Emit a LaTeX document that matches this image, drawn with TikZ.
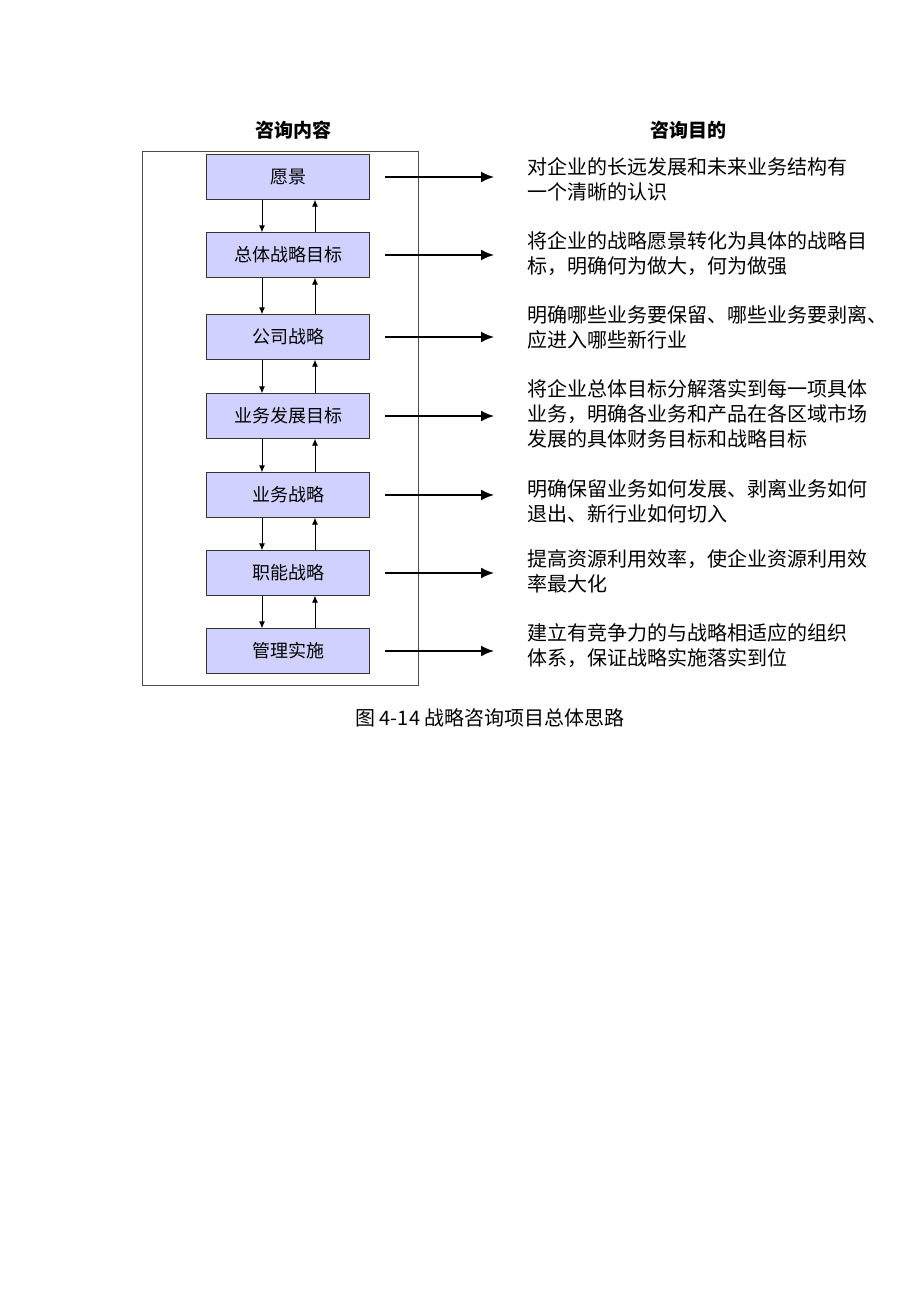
\documentclass[tikz,border=0pt]{standalone}
\usepackage{fontspec}
\usetikzlibrary{arrows.meta}
\setmainfont{Noto Sans CJK SC}
\begin{document}
\begin{tikzpicture}[x=1pt,y=-1pt,
 box/.style={draw=black!80,fill=blue!18!white,minimum width=163pt,minimum height=45pt,inner sep=0pt,font=\fontsize{18}{20}\selectfont},
 desc/.style={anchor=north west,align=left,inner sep=0pt,font=\fontsize{20}{25}\selectfont},
 arr/.style={-{Latex[length=7pt,width=6pt]},line width=0.9pt},
 big/.style={-{Latex[length=13pt,width=11pt]},line width=1.8pt}]
\useasboundingbox (0,0) rectangle (920,1302);
\node[font=\bfseries\fontsize{19}{20}\selectfont] (h1) at (293,130) {咨询内容};
\node[font=\bfseries\fontsize{19}{20}\selectfont] (h2) at (688,130) {咨询目的};
\draw[line width=0.8pt,black!70] (142,151) rectangle (418,685);
\foreach \n/\y/\t in {1/177/愿景,2/255/总体战略目标,3/337/公司战略,4/416/业务发展目标,5/495/业务战略,6/573/职能战略,7/651/管理实施}{
  \node[box] (b\n) at (288,\y) {\t};
  \coordinate (s\n) at (385,\y);
  \coordinate (e\n) at (494,\y);
  \draw[big] (s\n) -- (e\n);
}
\foreach \a/\b in {1/2,2/3,3/4,4/5,5/6,6/7}{
  \draw[arr] (b\a.south -| 262,0) -- (b\b.north -| 262,0);
  \draw[arr] (b\b.north -| 315,0) -- (b\a.south -| 315,0);
}
\node[desc] (d1) at (527,157) {对企业的长远发展和未来业务结构有\\一个清晰的认识};
\node[desc] (d2) at (527,231) {将企业的战略愿景转化为具体的战略目\\标，明确何为做大，何为做强};
\node[desc] (d3) at (527,305) {明确哪些业务要保留、哪些业务要剥离、\\应进入哪些新行业};
\node[desc] (d4) at (527,379) {将企业总体目标分解落实到每一项具体\\业务，明确各业务和产品在各区域市场\\发展的具体财务目标和战略目标};
\node[desc] (d5) at (527,479) {明确保留业务如何发展、剥离业务如何\\退出、新行业如何切入};
\node[desc] (d6) at (527,549) {提高资源利用效率，使企业资源利用效\\率最大化};
\node[desc] (d7) at (527,623) {建立有竞争力的与战略相适应的组织\\体系，保证战略实施落实到位};
\node[font=\fontsize{20}{22}\selectfont] (cap) at (490,718) {图 4-14 战略咨询项目总体思路};
\end{tikzpicture}
\end{document}
